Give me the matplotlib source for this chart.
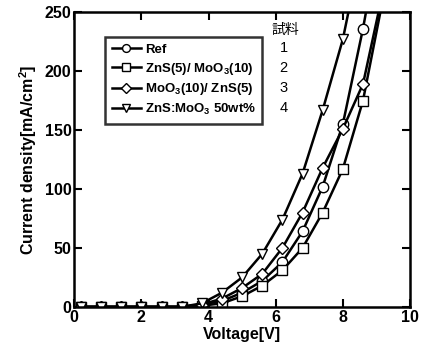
import numpy as np
import matplotlib
matplotlib.use("Agg")
import matplotlib.pyplot as plt

plt.rcParams['font.family'] = ['Liberation Sans', 'Noto Sans CJK JP', 'DejaVu Sans']
plt.rcParams['mathtext.fontset'] = 'custom'
plt.rcParams['mathtext.rm'] = 'Liberation Sans:bold'
plt.rcParams['mathtext.bf'] = 'Liberation Sans:bold'

voltage = [0.2, 0.8, 1.4, 2.0, 2.6, 3.2, 3.8, 4.4, 5.0, 5.6, 6.2, 6.8, 7.4, 8.0, 8.6, 9.2]

ref = [0, 0, 0, 0, 0, 0, 2, 5, 12, 22, 38, 64, 102, 155, 236, 330]
zns_moo3 = [0, 0, 0, 0, 0, 0, 1, 3, 9, 18, 31, 50, 80, 117, 175, 262]
moo3_zns = [0, 0, 0, 0, 0, 0, 2, 7, 16, 28, 50, 80, 118, 151, 189, 268]
mixed = [0, 0, 0, 0, 0, 0, 3, 12, 25, 45, 74, 113, 167, 227, 310, 400]

labels = ['Ref', r'ZnS(5)/ MoO$_3$(10)', r'MoO$_3$(10)/ ZnS(5)', r'ZnS:MoO$_3$ 50wt%']
markers = ['o', 's', 'D', 'v']
sample_nums = ['1', '2', '3', '4']

fig = plt.figure(figsize=(4.24, 3.56), dpi=100)
ax = fig.add_axes([0.175, 0.138, 0.792, 0.828])

series = [ref, zns_moo3, moo3_zns, mixed]
for vals, lab, m in zip(series, labels, markers):
    ms = 6.5 if m == 'D' else 7.5
    ax.plot(voltage, vals, color='black', linewidth=1.8, marker=m, markersize=ms,
            markerfacecolor='white', markeredgecolor='black', markeredgewidth=1.0,
            label=lab)

ax.set_xlim(0, 10)
ax.set_ylim(0, 250)
ax.set_xticks([0, 2, 4, 6, 8, 10])
ax.set_yticks([0, 50, 100, 150, 200, 250])
ax.tick_params(direction='in', length=6, width=1.5, top=True, right=True,
               labelsize=11.5, pad=2)
for t in ax.get_xticklabels() + ax.get_yticklabels():
    t.set_fontweight('bold')
for s in ax.spines.values():
    s.set_linewidth(1.8)

ax.set_xlabel('Voltage[V]', fontsize=11.5, fontweight='bold', labelpad=2)
ax.set_ylabel(r'Current density[mA/cm$^2$]', fontsize=11.5, fontweight='bold', labelpad=4)

leg = ax.legend(loc='upper left', bbox_to_anchor=(0.092, 0.915), borderaxespad=0,
                frameon=True, fancybox=False, edgecolor='black', handlelength=2.2,
                handletextpad=0.3, borderpad=0.5, labelspacing=0.35, markerscale=0.75,
                prop={'weight': 'bold', 'size': 9.5})
leg.get_frame().set_linewidth(1.8)

ax.text(0.588, 0.94, '試料', transform=ax.transAxes, fontsize=10,
        family=['Noto Sans CJK JP'], ha='left', va='center')
for i, n in enumerate(sample_nums):
    ax.text(0.612, 0.878 - i * 0.068, n, transform=ax.transAxes, fontsize=10.5,
            ha='left', va='center')

fig.savefig('out.png', dpi=100)
